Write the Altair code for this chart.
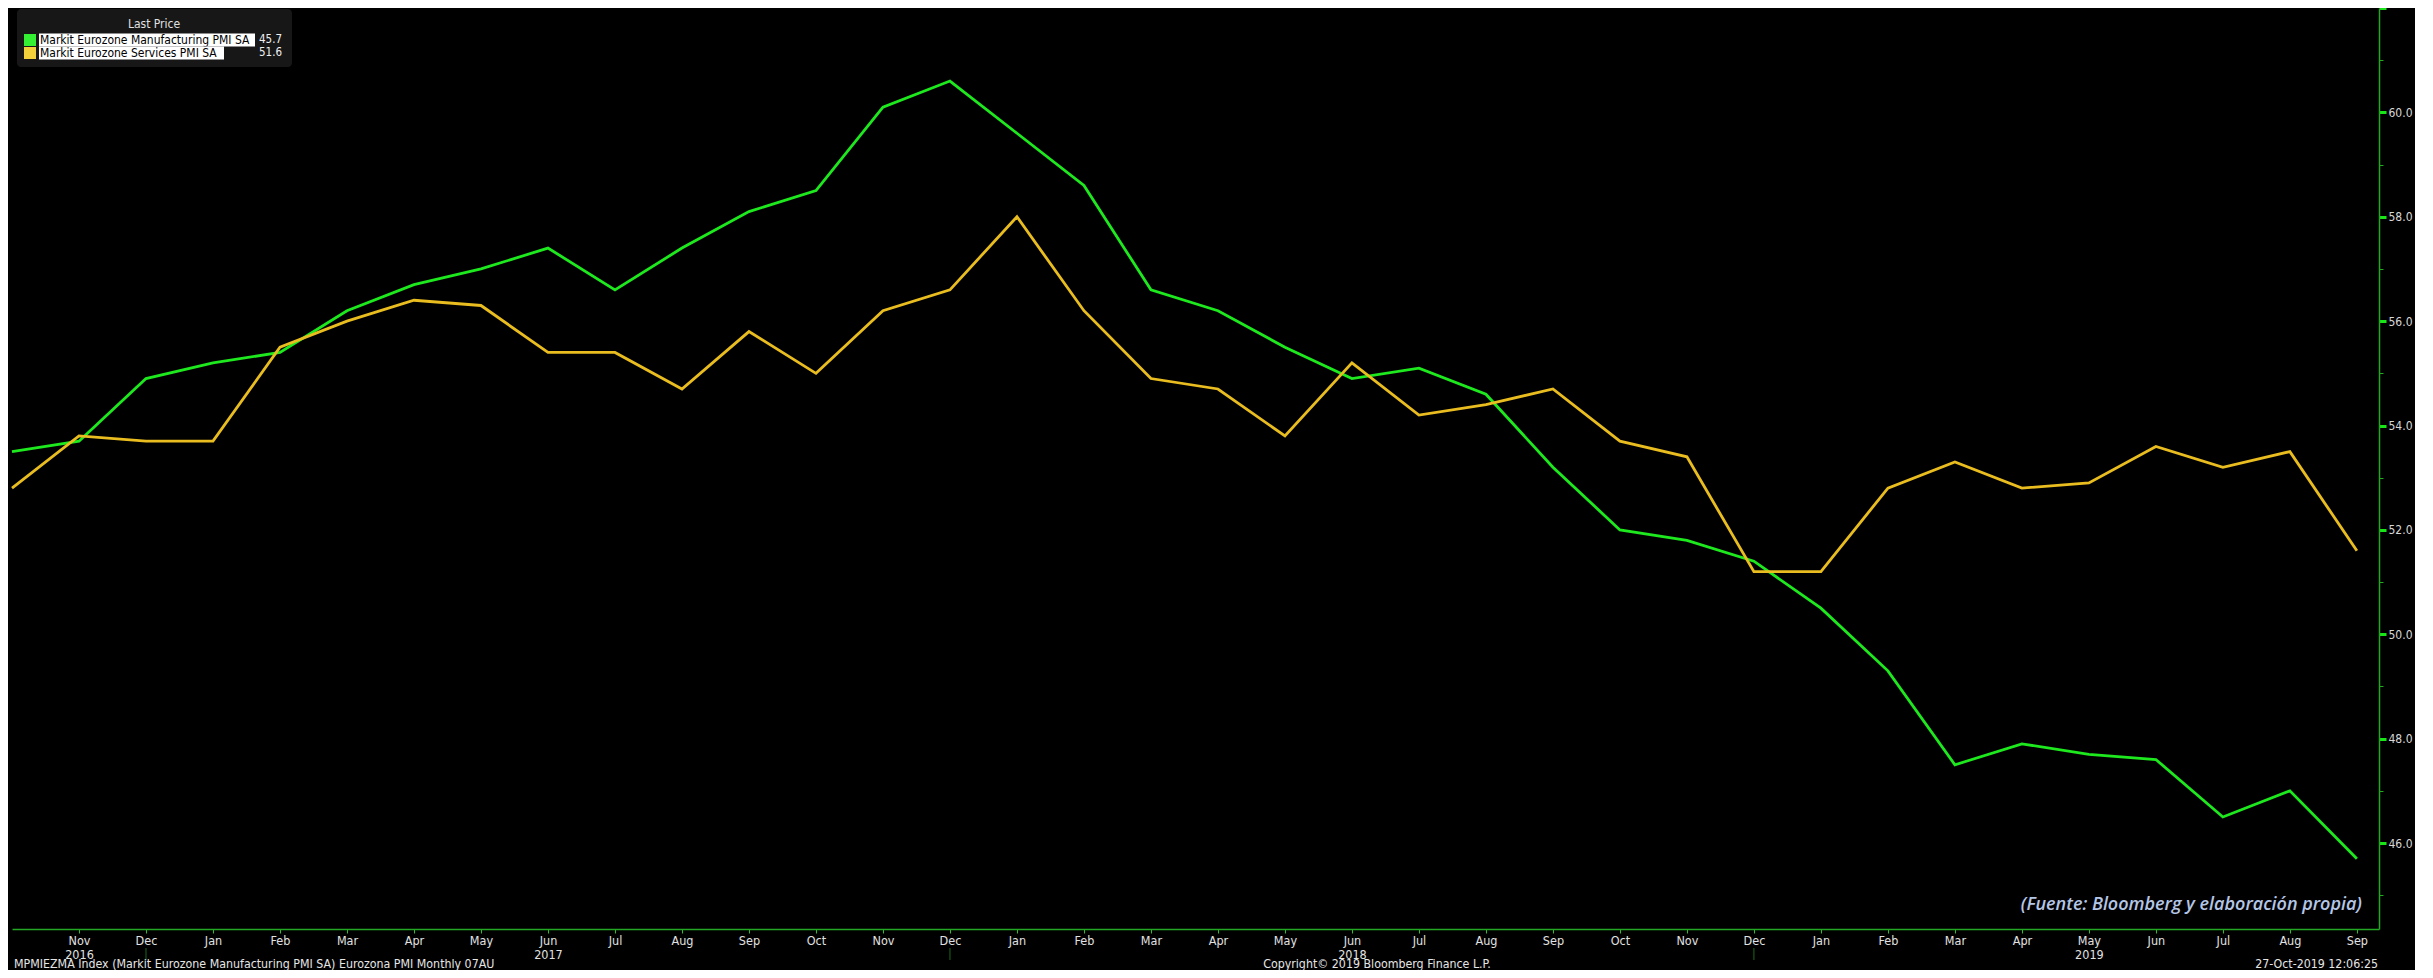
import json
import altair as alt
import pandas as pd

# ---------------- data ----------------
months = ["Oct", "Nov", "Dec", "Jan", "Feb", "Mar", "Apr", "May", "Jun", "Jul", "Aug", "Sep",
          "Oct", "Nov", "Dec", "Jan", "Feb", "Mar", "Apr", "May", "Jun", "Jul", "Aug", "Sep",
          "Oct", "Nov", "Dec", "Jan", "Feb", "Mar", "Apr", "May", "Jun", "Jul", "Aug", "Sep"]
year_label_idx = [1, 8, 20, 31]
year_label_text = ["2016", "2017", "2018", "2019"]
year_break_idx = [2, 14, 26]

series_names = ["Markit Eurozone Manufacturing PMI SA", "Markit Eurozone Services PMI SA"]
manufacturing = [53.5, 53.7, 54.9, 55.2, 55.4, 56.2, 56.7, 57.0, 57.4, 56.6, 57.4, 58.1,
                 58.5, 60.1, 60.6, 59.6, 58.6, 56.6, 56.2, 55.5, 54.9, 55.1, 54.6, 53.2,
                 52.0, 51.8, 51.4, 50.5, 49.3, 47.5, 47.9, 47.7, 47.6, 46.5, 47.0, 45.7]
services = [52.8, 53.8, 53.7, 53.7, 55.5, 56.0, 56.4, 56.3, 55.4, 55.4, 54.7, 55.8,
            55.0, 56.2, 56.6, 58.0, 56.2, 54.9, 54.7, 53.8, 55.2, 54.2, 54.4, 54.7,
            53.7, 53.4, 51.2, 51.2, 52.8, 53.3, 52.8, 52.9, 53.6, 53.2, 53.5, 51.6]
y_tick_values = list(range(45, 63))

legend_title = "Last Price"
source_note = "(Fuente: Bloomberg y elaboración propia)"
footer_left = "MPMIEZMA Index (Markit Eurozone Manufacturing PMI SA) Eurozona PMI  Monthly 07AU"
footer_mid = "Copyright\u00a9 2019 Bloomberg Finance L.P."
footer_right = "27-Oct-2019 12:06:25"

# ---------------- style ----------------
W, H = 2367, 921
Y_TOP = 62.0
PX_PER_UNIT = 52.19
GREEN = "#1ee81e"
YELLOW = "#e9bd1f"
AXIS_GREEN = "#22a822"
FONT = "DejaVu Sans Condensed, Liberation Sans Narrow, Arial Narrow, sans-serif"

rows = []
for name, vals in zip(series_names, [manufacturing, services]):
    for i, v in enumerate(vals):
        rows.append({"idx": i, "month": months[i], "value": v, "series": name})
line_df = pd.DataFrame(rows)

x_labels = []
for i, m in enumerate(months):
    if i in year_label_idx:
        x_labels.append([m, year_label_text[year_label_idx.index(i)]])
    else:
        x_labels.append(m)
x_label_expr = json.dumps(x_labels) + "[datum.value]"

x_axis = alt.Axis(values=list(range(1, len(months))), labelExpr=x_label_expr, title="",
                  tickSize=4, tickColor="#2fbf2f", domainColor=AXIS_GREEN, domainWidth=1.5,
                  labelColor="#e2e2e2", labelFontSize=12.5, labelFont=FONT, labelLineHeight=14,
                  labelPadding=1, labelBaseline="top", grid=False, labelOverlap=False,
                  labelFlush=False)
y_axis = alt.Axis(orient="right", values=y_tick_values, title="",
                  labelExpr="datum.value % 2 == 0 && datum.value < 61 ? format(datum.value, '.1f') : ''",
                  tickSize={"condition": {"test": "datum.value % 2 == 0", "value": 7}, "value": 4},
                  tickWidth={"condition": {"test": "datum.value % 2 == 0", "value": 3}, "value": 1},
                  tickColor={"condition": {"test": "datum.value % 2 == 0", "value": "#19e619"},
                             "value": AXIS_GREEN},
                  domainColor=AXIS_GREEN, domainWidth=1.5, grid=False, labelColor="#d8d8d8",
                  labelFontSize=12, labelFont=FONT, labelPadding=2, labelOverlap=False,
                  labelFlush=False)

X = alt.X("idx:Q", scale=alt.Scale(domain=[0, 35.33], nice=False, zero=False), axis=x_axis)
Y = alt.Y("value:Q", scale=alt.Scale(domain=[Y_TOP - H / PX_PER_UNIT, Y_TOP], nice=False, zero=False),
          axis=y_axis)

lines = alt.Chart(line_df).mark_line(strokeWidth=2.8).encode(
    x=X, y=Y,
    color=alt.Color("series:N", scale=alt.Scale(domain=series_names, range=[GREEN, YELLOW]),
                    legend=None),
)

seps = alt.Chart(pd.DataFrame({"idx": year_break_idx})).mark_rule(
    color="#1b6a1b", strokeWidth=1).encode(x=X, y=alt.value(H + 19), y2=alt.value(H + 31))

one = pd.DataFrame({"a": [0]})


def text_layer(txt, x, y, **kw):
    return alt.Chart(one).mark_text(**kw).encode(x=alt.value(x), y=alt.value(y), text=alt.value(txt))


layers = [lines, seps]

layers.append(text_layer(source_note, 2350, 897, align="right", baseline="middle",
                         font="Open Sans", fontSize=18, fontStyle="italic", fontWeight=600,
                         color="#b4c6e6"))
FOOT_Y = H + 39
layers.append(text_layer(footer_left, 2, FOOT_Y, align="left", baseline="alphabetic",
                         font=FONT, fontSize=12.3, color="#e6e6e6"))
layers.append(text_layer(footer_mid, 1365, FOOT_Y, align="center", baseline="alphabetic",
                         font=FONT, fontSize=12.3, color="#e6e6e6"))
layers.append(text_layer(footer_right, 2366, FOOT_Y, align="right", baseline="alphabetic",
                         font=FONT, fontSize=12.3, color="#e6e6e6"))

# legend box
layers.append(alt.Chart(one).mark_rect(color="#171717", cornerRadius=4).encode(
    x=alt.value(5), x2=alt.value(280), y=alt.value(1), y2=alt.value(59)))
layers.append(text_layer(legend_title, 142, 16, align="center", baseline="middle",
                         font=FONT, fontSize=12, color="#e0e0e0"))
last_vals = [manufacturing[-1], services[-1]]
legend_colors = ["#33f033", "#f2d03c"]
hl_right = [243, 212]
for i in range(2):
    yc = 32 + 13 * i
    layers.append(alt.Chart(one).mark_rect(color=legend_colors[i]).encode(
        x=alt.value(12), x2=alt.value(24), y=alt.value(yc - 6), y2=alt.value(yc + 6)))
    layers.append(alt.Chart(one).mark_rect(color="#ffffff").encode(
        x=alt.value(27), x2=alt.value(hl_right[i]), y=alt.value(yc - 6.5), y2=alt.value(yc + 6.5)))
    layers.append(text_layer(series_names[i], 28, yc, align="left", baseline="middle",
                             font=FONT, fontSize=12, color="#000000"))
    layers.append(text_layer(f"{last_vals[i]:.1f}", 270, yc, align="right", baseline="middle",
                             font=FONT, fontSize=11.5, color="#f0f0f0"))

chart = alt.layer(*layers).properties(
    width=W, height=H, background="black",
    padding={"left": 4, "top": 0, "right": 36, "bottom": 41},
    autosize=alt.AutoSizeParams(type="none"),
).configure_view(strokeWidth=0)

chart.save("out.html", embed_options={"renderer": "svg", "actions": False})
